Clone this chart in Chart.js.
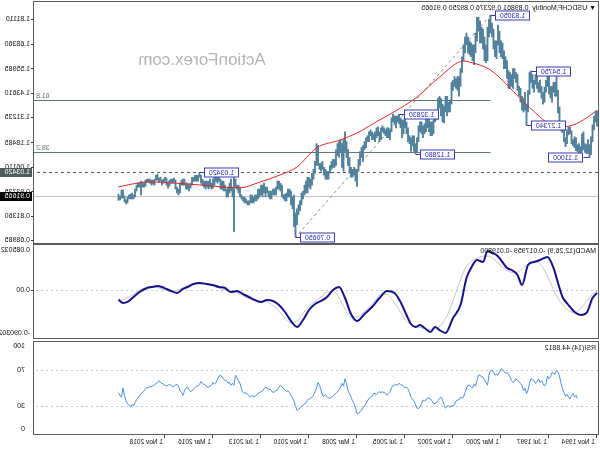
<!DOCTYPE html>
<html><head><meta charset="utf-8">
<script src="https://cdn.jsdelivr.net/npm/chart.js@4.4.0/dist/chart.umd.min.js"></script>
<style>
html,body{margin:0;padding:0;background:#fff;}
#wrap{position:relative;width:600px;height:450px;transform:scaleX(-1);overflow:hidden;background:#fff}
canvas{position:absolute;left:0}
</style></head><body>
<div id="wrap">
<canvas id="c1" width="600" height="244" style="top:0;width:600px;height:244px"></canvas>
<canvas id="c2" width="600" height="95" style="top:244px;width:600px;height:95px"></canvas>
<canvas id="c3" width="600" height="111" style="top:339px;width:600px;height:111px"></canvas>
</div>
<script>
// ---- monthly USDCHF bars, Nov 1994 .. Jun 2021 ----
const highs=[1.345,1.340,
1.318,1.275,1.215,1.175,1.200,1.175,1.180,1.240,1.230,1.165,1.180,1.175,
1.210,1.215,1.200,1.245,1.265,1.265,1.250,1.210,1.255,1.280,1.290,1.365,
1.450,1.535,1.490,1.490,1.470,1.470,1.530,1.540,1.500,1.465,1.440,1.470,
1.500,1.490,1.535,1.530,1.500,1.530,1.5475,1.540,1.450,1.380,1.440,1.410,
1.420,1.460,1.470,1.530,1.540,1.560,1.560,1.530,1.540,1.550,1.600,1.620,
1.650,1.690,1.700,1.750,1.780,1.700,1.700,1.760,1.790,1.8305,1.810,1.770,
1.680,1.720,1.760,1.770,1.800,1.820,1.820,1.740,1.680,1.680,1.690,1.700,
1.720,1.740,1.720,1.680,1.620,1.560,1.520,1.520,1.510,1.520,1.500,1.490,
1.400,1.390,1.420,1.420,1.370,1.380,1.410,1.420,1.410,1.340,1.350,1.300,
1.290,1.290,1.310,1.320,1.320,1.280,1.270,1.290,1.290,1.270,1.210,1.180,
1.220,1.220,1.210,1.220,1.260,1.290,1.320,1.300,1.300,1.310,1.3283,1.320,
1.320,1.320,1.330,1.310,1.250,1.260,1.260,1.250,1.260,1.270,1.260,1.240,
1.265,1.260,1.240,1.230,1.240,1.250,1.240,1.220,1.210,1.190,1.170,1.160,
1.140,1.100,1.050,1.050,1.060,1.050,1.060,1.110,1.150,1.190,1.240,1.200,
1.180,1.200,1.190,1.180,1.150,1.100,1.100,1.090,1.070,1.040,1.040,1.050,
1.060,1.090,1.080,1.080,1.170,1.180,1.090,1.050,1.030,1.000,1.010,1.010,
0.990,0.970,0.940,0.930,0.890,0.870,0.850,0.830,0.920,0.910,0.940,0.950,
0.950,0.930,0.925,0.920,0.970,0.980,0.990,0.990,0.960,0.950,0.950,0.940,
0.940,0.940,0.960,0.960,0.980,0.970,0.970,0.950,0.950,0.920,0.920,0.910,
0.920,0.920,0.890,0.890,0.900,0.910,0.910,0.920,0.960,0.970,0.970,1.000,
1.024,0.960,1.000,0.980,0.960,0.950,0.970,0.990,0.990,1.000,1.030,1.020,
1.030,1.010,1.000,0.980,1.000,0.990,0.990,0.990,0.990,1.000,1.020,1.0343,
1.020,1.020,1.020,1.010,1.010,0.980,0.970,0.980,0.980,1.000,1.000,0.995,
0.980,0.950,0.960,0.995,1.005,1.000,1.000,0.995,0.985,1.005,1.010,1.000,
0.995,1.010,1.005,1.025,1.020,1.000,0.995,0.995,1.000,1.000,1.000,0.995,
0.980,0.985,0.990,0.980,0.980,0.970,0.950,0.920,0.930,0.925,0.920,0.910,
0.895,0.915,0.945,0.945,0.915,0.924];
const lows=[1.268,1.290,
1.250,1.190,1.125,1.1100,1.130,1.130,1.135,1.150,1.140,1.120,1.125,1.140,
1.145,1.160,1.170,1.180,1.230,1.225,1.180,1.165,1.190,1.235,1.245,1.270,
1.335,1.420,1.420,1.440,1.390,1.410,1.430,1.470,1.440,1.390,1.380,1.410,
1.440,1.440,1.460,1.480,1.440,1.460,1.490,1.430,1.340,1.2734,1.350,1.340,
1.350,1.390,1.420,1.450,1.490,1.510,1.460,1.470,1.460,1.460,1.510,1.560,
1.560,1.610,1.620,1.640,1.680,1.610,1.620,1.660,1.720,1.740,1.720,1.600,
1.590,1.600,1.660,1.690,1.690,1.750,1.700,1.640,1.580,1.600,1.620,1.630,
1.640,1.680,1.640,1.600,1.540,1.470,1.420,1.450,1.460,1.470,1.450,1.380,
1.340,1.340,1.320,1.340,1.285,1.290,1.320,1.360,1.320,1.300,1.290,1.230,
1.220,1.220,1.240,1.260,1.240,1.230,1.210,1.230,1.240,1.190,1.135,1.1288,
1.140,1.170,1.140,1.180,1.190,1.230,1.260,1.230,1.210,1.260,1.280,1.290,
1.260,1.280,1.290,1.240,1.200,1.210,1.210,1.220,1.230,1.240,1.200,1.190,
1.220,1.210,1.190,1.200,1.200,1.220,1.190,1.190,1.160,1.150,1.090,1.110,
1.070,1.040,0.964,0.990,1.020,1.010,1.010,1.030,1.070,1.110,1.140,1.040,
1.060,1.140,1.110,1.120,1.070,1.060,1.060,1.050,1.030,1.000,1.000,1.000,
1.020,1.050,1.040,1.050,1.070,1.070,1.030,1.000,0.970,0.950,0.960,0.930,
0.930,0.920,0.900,0.870,0.840,0.820,0.770,0.7065,0.760,0.850,0.870,0.910,
0.910,0.890,0.890,0.900,0.910,0.940,0.950,0.950,0.920,0.920,0.920,0.900,
0.900,0.910,0.930,0.910,0.930,0.910,0.920,0.910,0.900,0.890,0.890,0.880,
0.880,0.880,0.870,0.870,0.880,0.880,0.890,0.900,0.910,0.930,0.950,0.960,
0.735,0.910,0.940,0.930,0.910,0.910,0.940,0.940,0.950,0.950,0.990,0.980,
0.990,0.970,0.955,0.950,0.960,0.950,0.960,0.950,0.960,0.970,0.980,1.010,
0.990,0.990,0.990,0.990,0.970,0.955,0.940,0.950,0.950,0.970,0.970,0.970,
0.930,0.920,0.930,0.950,0.985,0.980,0.980,0.965,0.955,0.970,0.990,0.980,
0.970,0.990,0.985,0.995,0.995,0.970,0.975,0.970,0.980,0.985,0.985,0.965,
0.960,0.960,0.920,0.960,0.960,0.940,0.910,0.900,0.900,0.900,0.900,0.880,
0.875,0.885,0.905,0.905,0.895,0.8925];

// moving average
const maIdx=[0,7,16,25,34,43,47,58,71,85,89,105,120,131,145,160,171,187,200,211,225,238,265,300,306,319];
const maVal=[1.350,1.310,1.274,1.264,1.290,1.350,1.376,1.462,1.553,1.593,1.598,1.517,1.416,1.360,1.300,1.234,1.199,1.158,1.062,1.022,0.985,0.956,0.971,0.986,0.981,0.961];

// MACD(12,26,9) main line and signal line
const macdIdx=[0,3,7,11,15,19,23,26,29,33,38,42,46,50,53,57,60,64,67,70,73,76,80,84,87,91,96,101,105,108,111,115,118,121,124,127,131,135,140,145,150,155,160,164,168,172,176,180,184,188,192,196,200,204,208,212,216,220,224,228,232,236,240,244,248,252,256,260,265,269,273,276,280,284,287,290,293,297,300,305,309,313,316,319];
const macdVal=[-0.0055,-0.0149,-0.0432,-0.0469,-0.0413,-0.0281,-0.0130,0.0134,0.0417,0.0624,0.0567,0.0530,0.0473,0.0096,0.0285,0.0379,0.0417,0.0567,0.0662,0.0699,0.0737,0.0530,0.0567,0.0417,0.0228,-0.0281,-0.0526,-0.0809,-0.0752,-0.0696,-0.0790,-0.0714,-0.0658,-0.0696,-0.0639,-0.0469,-0.0224,-0.0055,-0.0017,-0.0149,-0.0319,-0.0451,-0.0583,-0.0451,-0.0149,0.0058,0.0002,-0.0130,-0.0205,-0.0262,-0.0375,-0.0564,-0.0696,-0.0583,-0.0413,-0.0281,-0.0205,-0.0187,-0.0224,-0.0187,-0.0130,-0.0074,-0.0017,-0.0036,0.0040,0.0058,0.0096,0.0115,0.0134,0.0115,0.0058,0.0021,-0.0055,-0.0017,0.0021,0.0058,0.0077,0.0058,0.0040,-0.0036,-0.0130,-0.0224,-0.0243,-0.0180];
const sigIdx=[0,4,8,12,16,20,24,28,32,36,40,44,48,52,56,60,64,68,72,76,80,84,88,92,96,100,104,108,112,116,120,124,128,132,136,140,144,148,152,156,160,164,168,172,176,180,184,188,192,196,200,204,208,212,216,220,224,228,232,236,240,244,248,252,256,260,264,268,272,276,280,284,288,292,296,300,304,308,312,316,319];
const sigVal=[-0.002,-0.010,-0.025,-0.038,-0.042,-0.036,-0.024,-0.005,0.020,0.042,0.053,0.052,0.045,0.035,0.033,0.037,0.046,0.056,0.064,0.064,0.060,0.054,0.040,0.012,-0.020,-0.048,-0.066,-0.072,-0.074,-0.072,-0.069,-0.065,-0.055,-0.037,-0.020,-0.008,-0.008,-0.020,-0.033,-0.043,-0.051,-0.051,-0.036,-0.015,-0.002,-0.004,-0.013,-0.021,-0.030,-0.044,-0.058,-0.062,-0.053,-0.040,-0.029,-0.022,-0.021,-0.020,-0.016,-0.011,-0.005,-0.003,0.000,0.004,0.007,0.010,0.012,0.012,0.009,0.004,0.000,-0.002,0.000,0.004,0.006,0.005,0.001,-0.006,-0.013,-0.018,-0.0198];

// RSI(14), monthly from bar 13
const rsiStart=13;
const rsiVal=[38.7,42,40,44,42,38,40,43,41,45,49,55,63,67,69,65,66,67,62,60,63,55,52,55,58,56,60,57,55,58,59,60,55,48,44,50,47,53,55,57,58,60,57,56,58,62,65,67,66,68,70,71,67,64,65,64,67,69,69,64,53,56,59,62,62,64,64,58,52,54,50,51,53,53,50,45,40,39,40,37,37,36,32,30,31,29,31,30,28,32,37,40,39,36,34,33,33,36,38,39,39,37,36,37,33,29,28,28,32,36,38,40,45,49,51,50,52,53,54,55,53,54,53,53,50,46,44,42,44,45,46,45,46,45,43,44,44,41,40,39,36,33,30,29,26,24,22,22,28,33,36,40,44,47,55,60,52,55,51,48,46,44,43,41,40,39,39,41,43,41,42,48,53,56,50,46,42,40,39,38,37,34,33,31,30,28,27,25.6,30,36,39,42,45,47,46,48,50,51,53,51,48,47,46,45,47,49,48,50,51,49,47,46,45,44,42,41,40,42,40,42,43,45,44,45,49,55,58,61,64,53,55,53,56,55,58,58,60,62,64,63,59,56,54,56,53,52,51,51,53,54,55,57,54,52,52,51,49,47,46,48,51,50,47,42,45,47,52,54,53,52,51,53,54,53,52,53,54,55,56,58,56,55,53,53,51,52,50,51,49,47,45,44,42,39,37,34,31,32,30,31,33,36,42,50,40,42,44.9];

// axis tick values / labels
const priceTicks=[1.8111,1.6836,1.55985,1.4361,1.31235,1.18485,1.0611,0.93735,0.8136,0.68985];
const macdMax=0.085032, macdMin=-0.090302;
const macdTickLabels=['0.085032','0.00','-0.090302'];
const rsiTickLabels=['100','70','30','0'];
const rsiLevels=[70,30];
const dateTickIdx=[0,32,64,96,128,160,192,224,256,288];
const dateTickLabels=['1 Nov 1994','1 Jul 1997','1 Mar 2000','1 Nov 2002','1 Jul 2005','1 Mar 2008','1 Nov 2010','1 Jul 2013','1 Mar 2016','1 Nov 2018'];

// annotations
const title='\u25BC USDCHF,Monthly  0.89861 0.92376 0.89250 0.91665';
const macdTitle='MACD(12,26,9) -0.017959 -0.019800';
const rsiTitle='RSI(14) 44.8812';
const watermark='ActionForex.com';
const swingIdx=[71,201,121,132,47,44,5,265];
const swingVal=[1.8305,0.7065,1.1288,1.3283,1.2734,1.5475,1.1100,1.0342];
const fiboHighIdx=71, fiboHigh=1.8305, fiboLowIdx=201, fiboLow=0.7065;
const fiboLevels=[0.618,0.382];
const dashedLevel=1.0342, lastPrice=0.91665;

const FONT='"Liberation Sans", Arial, sans-serif';
const X_MIN=-0.667, X_MAX=375.33;
const AXIS_W=34;

const bars=highs.map((h,i)=>({x:i,y:[lows[i],h]}));
const maPts=maIdx.map((x,i)=>({x,y:maVal[i]}));
const macdPts=macdIdx.map((x,i)=>({x,y:macdVal[i]}));
const sigPts=sigIdx.map((x,i)=>({x,y:sigVal[i]}));
const rsiPts=rsiVal.map((v,i)=>({x:i+rsiStart,y:v}));

function noPad(s){s.paddingTop=0;s.paddingBottom=0;s.paddingLeft=0;s.paddingRight=0;}

const frame={id:'frame',afterDraw(ch){const c=ch.ctx,a=ch.chartArea;c.save();c.strokeStyle='#5a5a5a';c.lineWidth=1;
 c.strokeRect(Math.round(a.left)-0.5,Math.round(a.top)-0.5,Math.round(a.right-a.left)+1,Math.round(a.bottom-a.top)+1);c.restore();}};

function hline(c,a,y,color,dash){c.save();c.strokeStyle=color;c.lineWidth=1;c.setLineDash(dash||[]);c.beginPath();
 const yy=Math.round(y)+0.5;c.moveTo(a.left,yy);c.lineTo(a.right,yy);c.stroke();c.restore();}

const mainDecor={id:'mainDecor',
 beforeDatasetsDraw(ch){const c=ch.ctx,a=ch.chartArea,xs=ch.scales.x,ys=ch.scales.y;
  c.save();
  c.fillStyle='#b4b4b4';c.font='17px '+FONT;c.textAlign='center';c.textBaseline='middle';
  c.fillText(watermark,398,60);
  hline(c,a,ys.getPixelForValue(lastPrice),'#c4c4c4');
  hline(c,a,ys.getPixelForValue(dashedLevel),'#555',[3,3]);
  const x0=xs.getPixelForValue(fiboHighIdx);
  fiboLevels.forEach(l=>{const v=fiboLow+l*(fiboHigh-fiboLow);const y=Math.round(ys.getPixelForValue(v))+0.5;
   c.strokeStyle='#5e7676';c.lineWidth=1;c.beginPath();c.moveTo(x0,y);c.lineTo(a.right,y);c.stroke();
   c.fillStyle='#5e7676';c.font='7px '+FONT;c.textAlign='right';c.textBaseline='bottom';c.fillText((l*100).toFixed(1),a.right-2,y-1);});
  c.strokeStyle='#8a8a8a';c.setLineDash([3,3]);c.beginPath();
  c.moveTo(xs.getPixelForValue(fiboHighIdx),ys.getPixelForValue(fiboHigh));
  c.lineTo(xs.getPixelForValue(fiboLowIdx),ys.getPixelForValue(fiboLow));c.stroke();
  c.restore();},
 afterDatasetsDraw(ch){const c=ch.ctx,a=ch.chartArea,xs=ch.scales.x,ys=ch.scales.y;
  c.save();c.font='7px '+FONT;c.textBaseline='middle';
  swingIdx.forEach((ix,k)=>{const bx=xs.getPixelForValue(ix),by=Math.round(ys.getPixelForValue(swingVal[k]))+0.5;
   const w=34,h=9;let left=bx-6-w,edge=bx-6;if(left<a.left){left=bx+6;edge=bx+6;}
   left=Math.round(left)+0.5;
   c.strokeStyle='#3a3ab4';c.lineWidth=1;c.beginPath();c.moveTo(bx,by);c.lineTo(edge,by);c.stroke();
   c.fillStyle='#fff';c.fillRect(left,by-h/2,w,h);c.strokeRect(left,by-h/2,w,h);
   c.fillStyle='#2a2aa8';c.textAlign='center';c.fillText(swingVal[k].toFixed(5),left+w/2,by+0.5);});
  c.fillStyle='#111';c.textAlign='left';c.textBaseline='middle';c.fillText(title,4,8);
  [[dashedLevel,'#4e5c5c'],[lastPrice,'#000']].forEach(([v,col])=>{const y=Math.round(ys.getPixelForValue(v));
   c.fillStyle=col;c.fillRect(a.right+2,y-4,32,9);c.fillStyle='#fff';c.textAlign='left';c.fillText(v.toFixed(5),a.right+4,y+0.5);});
  c.restore();}};

const panelDecor=(txt,levels)=>({id:'panelDecor',
 beforeDatasetsDraw(ch){const c=ch.ctx,a=ch.chartArea,ys=ch.scales.y;levels.forEach(v=>hline(c,a,ys.getPixelForValue(v),'#c8c8c8',[2,3]));},
 afterDatasetsDraw(ch){const c=ch.ctx,a=ch.chartArea;c.save();c.fillStyle='#111';c.font='7px '+FONT;c.textAlign='left';c.textBaseline='middle';c.fillText(txt,4,a.top+6);c.restore();}});

const common={animation:false,responsive:false,events:[],plugins:{legend:{display:false},tooltip:{enabled:false}}};
const tickFont={family:FONT,size:7};
function xScale(show){return {type:'linear',min:X_MIN,max:X_MAX,offset:false,display:show,afterFit:noPad};}

new Chart(document.getElementById('c1'),{type:'bar',
 data:{datasets:[
  {type:'line',data:maPts,borderColor:'#e4262a',borderWidth:1,pointRadius:0,tension:0.4,cubicInterpolationMode:'monotone',order:0},
  {type:'bar',data:bars,backgroundColor:'#4f7f9a',barThickness:1.2,grouped:false,order:1}]},
 options:{...common,layout:{padding:{left:2,right:0,top:2,bottom:1}},
  scales:{x:xScale(false),
   y:{position:'right',min:0.6769,max:1.8972,afterFit(s){s.width=AXIS_W;noPad(s);},
    afterBuildTicks(s){s.ticks=priceTicks.map(v=>({value:v}));},
    ticks:{font:tickFont,color:'#111',padding:1,autoSkip:false,callback:v=>Number(v).toFixed(5)},
    grid:{drawOnChartArea:false,drawTicks:true,tickLength:3,tickColor:'#333'},border:{display:false}}}},
 plugins:[mainDecor,frame]});

new Chart(document.getElementById('c2'),{type:'line',
 data:{datasets:[
  {data:macdPts,borderColor:'#14148a',borderWidth:2,pointRadius:0,tension:0.4,cubicInterpolationMode:'monotone'},
  {data:sigPts,borderColor:'#c4c4c4',borderWidth:1,pointRadius:0,tension:0.4,cubicInterpolationMode:'monotone'}]},
 options:{...common,layout:{padding:{left:2,right:0,top:1,bottom:1}},
  scales:{x:xScale(false),
   y:{position:'right',min:macdMin,max:macdMax,afterFit(s){s.width=AXIS_W;noPad(s);},
    afterBuildTicks(s){const px=(s.max-s.min)/93;s.ticks=[{value:s.max-5*px},{value:0},{value:s.min+4.5*px}];},
    ticks:{font:tickFont,color:'#111',padding:1,autoSkip:false,callback:(v,i)=>macdTickLabels[i]},
    grid:{drawOnChartArea:false,drawTicks:true,tickLength:3,tickColor:c=>c.tick&&c.tick.value===0?'#333':'rgba(0,0,0,0)'},border:{display:false}}}},
 plugins:[panelDecor(macdTitle,[0]),frame]});

new Chart(document.getElementById('c3'),{type:'line',
 data:{datasets:[{data:rsiPts,borderColor:'#4a8fe4',borderWidth:1,pointRadius:0,tension:0}]},
 options:{...common,layout:{padding:{left:2,right:0,top:3,bottom:0}},
  scales:{x:{...xScale(true),afterFit(s){s.height=16;noPad(s);},
    afterBuildTicks(s){s.ticks=dateTickIdx.map(v=>({value:v}));},
    ticks:{font:{family:FONT,size:6.5},color:'#111',padding:0,autoSkip:false,maxRotation:0,align:'start',labelOffset:2,callback:(v,i)=>dateTickLabels[i]},
    grid:{drawOnChartArea:false,drawTicks:true,tickLength:4,tickColor:'#333'},border:{display:false}},
   y:{position:'right',min:0,max:100,afterFit(s){s.width=AXIS_W;noPad(s);},
    afterBuildTicks(s){const px=100/92;s.ticks=[{value:100-4.5*px},{value:70},{value:30},{value:4.5*px}];},
    ticks:{font:tickFont,color:'#111',padding:1,autoSkip:false,callback:(v,i)=>rsiTickLabels[i]},
    grid:{display:false},border:{display:false}}}},
 plugins:[panelDecor(rsiTitle,rsiLevels),frame]});
</script>
</body></html>
